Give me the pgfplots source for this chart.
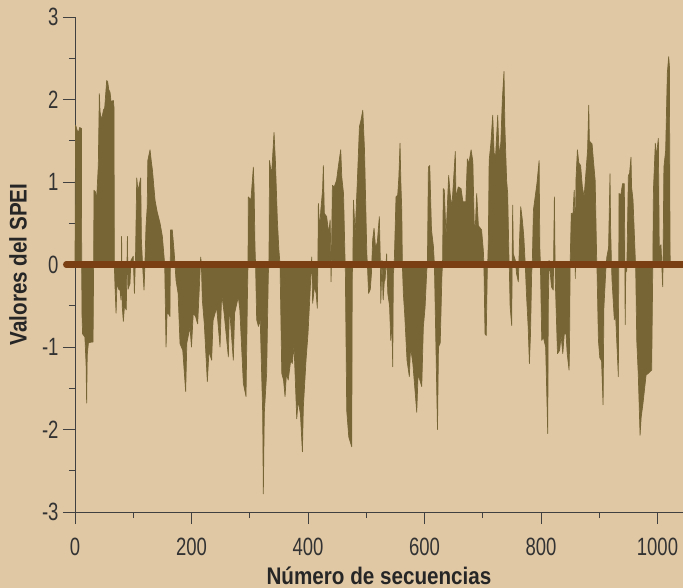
\documentclass[border=0pt]{standalone}
\usepackage{pgfplots}
\pgfplotsset{compat=1.18}
\usepackage{fontspec}
\setmainfont{Liberation Sans}[FakeStretch=0.74]
\newfontfamily\lblfont{Liberation Sans}[FakeStretch=0.86]

\definecolor{bgc}{RGB}{224,200,165}
\definecolor{fillc}{RGB}{119,101,54}
\definecolor{zeroc}{RGB}{123,63,20}
\definecolor{axisc}{RGB}{64,64,64}

\begin{document}
\begin{tikzpicture}
% background of the whole picture
\fill[bgc] (-75bp,-76bp) rectangle (608bp,512bp);
\begin{axis}[
    at={(0,0)}, anchor=south west,
    scale only axis,
    width=608bp, height=495bp,
    xmin=0, xmax=1043.8,
    ymin=-3, ymax=3,
    clip=false,
    axis x line*=bottom, axis y line*=left,
    axis line style={-, draw=axisc, line width=0.9pt},
    xtick={0,200,...,1000}, minor xtick={100,300,...,900},
    ytick={-3,-2,...,3}, minor ytick={-2.5,-1.5,...,2.5},
    tick align=outside,
    major tick length=12bp, minor tick length=6bp,
    every tick/.style={axisc, line width=0.9pt},
    /pgf/number format/assume math mode=true,
    /pgf/number format/set thousands separator={},
    tick label style={font=\fontsize{25bp}{28bp}\selectfont, text=black!80},
    xticklabel style={yshift=-11bp},
    yticklabel style={xshift=-1bp},
    xlabel={Número de secuencias},
    ylabel={Valores del SPEI},
    label style={font=\lblfont\fontsize{24bp}{26bp}\selectfont\bfseries, text=black!85},
    xlabel style={at={(axis description cs:0.5,-0.1455)}, anchor=base, inner sep=0pt},
    ylabel style={at={(axis description cs:-0.0938,0.5)}, anchor=center},
]
% SPEI series
\addplot[fill=fillc, draw=fillc, line width=0.7pt, line join=round] coordinates {
(0,0) (1,1.69) (4,1.62) (6,1.60) (8,1.66) (11,1.65) (11.5,0)
(12,-0.6) (13,-0.84) (17,-0.88) (19,-1.2) (20,-1.68) (21,-1.1) (23,-0.95) (28,-0.94) (31,-0.94) (32,0)
(32.6,0.9) (35,0.88) (37.2,0.8) (40,1.2) (41.8,2.07) (43,1.85) (45.8,1.75) (48.7,1.87) (51,1.9) (54.4,2.23) (56,2.22) (58,2.12) (60.1,2.09) (62,1.97) (65.8,1.99) (67,1.9) (67.5,0)
(68.7,-0.27) (70.5,-0.59) (72,-0.23) (75,-0.3) (77.3,-0.31) (79,-0.43) (80,0.34) (81,-0.5) (83,-0.69) (85,-0.5) (88,-0.55) (90,0.34) (91,-0.3) (94.4,-0.23) (96,0.05) (100,0.1) (102,-0.35) (104,0.13) (106,1.05) (108,0.9) (110,0.95) (112.8,1.05) (114,0.3) (116,0) (118.5,-0.31) (120,0)
(121.9,0.46) (124,0.7) (125,1.26) (128.8,1.39) (131,1.25) (133,1.14) (137.4,0.78) (141,0.64) (146,0.5) (150,0.34) (153.4,0.05) (154,0)
(156.3,-1.0) (158,-0.6) (160,-0.59) (163,-0.63) (164,0.42) (167,0.42) (170,0.17) (171.7,0)
(173.4,-0.19) (177,-0.35) (180.3,-0.96) (185,-1.04) (190,-1.54) (192,-0.95) (197.4,-0.76) (200,-1.0) (203,-0.59) (207,-0.63) (210.6,-0.72) (213,-0.35) (215.8,0.09) (217,0)
(218.6,-0.43) (222,-0.72) (227.2,-1.42) (230,-1.05) (234.6,-1.16) (237,-0.68) (243.2,-0.52) (249,-1.0) (251.8,-0.35) (256,-0.59) (263.3,-1.12) (265,-0.5) (271.8,-1.16) (274,-0.59) (280.4,-0.39) (283,-0.55) (289,-1.44) (293.6,-1.6) (296,-0.4) (297,0)
(297.6,0.82) (302,0.78) (306.2,1.18) (307.5,0.9) (309,0.21) (310,0)
(311.9,-0.67) (315,-0.75) (318,-0.67) (322.2,-1.8) (323.3,-2.78) (325,-1.8) (329,-1.32) (331.9,-0.11) (333,0)
(334,1.26) (336,1.15) (338,1.15) (341.7,1.6) (344,1.26) (347.4,0.54) (350,0.18) (352,0)
(355,-1.32) (358,-1.4) (360.6,-1.6) (363,-1.32) (366,-1.4) (370.4,-1.16) (373,-1.2) (376,-0.98) (380.7,-1.87) (383,-1.65) (387,-1.81) (390.4,-2.27) (392,-1.73) (396.6,-1.16) (400,-0.84) (403.5,-0.35) (405,-0.11) (406.4,0.09) (408,-0.47) (411,-0.27) (414,-0.35) (416,-0.53) (417,0)
(417.8,0.74) (420,0.42) (422,0.66) (425,0.9) (426.4,1.2) (428,0.62) (432,0.58) (435.6,0.38) (438,0.54) (439,0.2) (439.6,-0.21) (440.5,0.2) (441.9,0.96) (445,0.94) (449,1.02) (452.3,1.2) (456.2,1.39) (458,1.06) (461,0.86) (463.6,0.05) (464,0)
(466.5,-1.77) (470,-2.09) (475.1,-2.21) (476,-0.11) (477,0)
(478,0.78) (481,0.38) (485,1.06) (488.3,1.67) (491,1.75) (494.1,1.87) (497,1.39) (501,0.13) (502,0)
(504,-0.35) (507,-0.3) (509,-0.1) (511,0.3) (513.4,0.44) (516,0.2) (519,0.27) (522.5,0.58) (524,0.1) (525,-0.47) (527,0.05) (529,-0.43) (531,-0.2) (532.3,-0.19) (535,0.13) (537,-0.35) (540,-0.5) (542.1,-0.92) (544,-0.7) (545.5,-1.24) (546.5,-0.11) (548,0)
(551.1,0.82) (554,0.84) (556,1.06) (558,1.47) (559.5,0.98) (561,0.66) (562,0)
(563.7,-0.35) (566,-0.6) (570,-1.16) (574,-1.36) (576,-1.0) (580,-1.2) (584,-1.55) (586.7,-1.79) (589,-1.33) (592,-1.4) (595.3,-1.48) (598,-0.76) (601,-0.52) (603.9,-0.07) (605,0)
(606.7,1.18) (609,1.2) (612,0.42) (615.3,0.22) (617,0)
(619,-0.75) (622.3,-2.0) (624,-1.0) (627,-0.95) (630,-0.11) (631,0)
(632.3,0.92) (634,0.9) (637,0.34) (641.5,1.08) (644,0.86) (647,0.69) (652.9,1.37) (654,0.82) (658,0.94) (662.7,0.92) (666,0.76) (671,0.76) (673.6,1.28) (676,1.22) (680,1.39) (683,1.25) (685.7,0.38) (687.5,0.5) (689.6,0.86) (692.5,0.47) (698,0.42) (701,0.17) (702,0)
(703.9,-0.84) (706,-0.86) (707.9,-0.03) (708.5,0)
(709.6,0.28) (711,1.26) (714,1.47) (717.1,1.81) (719.5,1.35) (722,1.31) (725.7,1.81) (728,1.33) (731,1.47) (733.6,1.99) (736.5,2.34) (738,1.67) (741,1.02) (742.8,0.86) (745.1,0.05) (745.5,0)
(747,-0.51) (749.7,-0.74) (750.5,0) (751.4,0.72) (752.5,0.13) (756,0.05) (758,-0.11) (761.1,-0.21) (762,0) (763,0.26) (765.2,0.7) (768,0.54) (770.5,0.34) (772.6,0.05) (773,0)
(775,-0.35) (778,-0.76) (780.1,-1.2) (782,-0.84) (784,-0.1) (785,0)
(787,0.66) (790,0.82) (793,0.98) (796.8,1.26) (798,0.21) (799,0)
(801.3,-0.92) (804,-0.88) (808,-1.0) (811.6,-2.05) (812.5,-0.5) (813.9,0.05) (816,-0.11) (818,-0.27) (821,-0.31) (823,0.82) (824.5,-0.19) (828.3,-1.08) (832,-1.04) (834.5,-0.86) (837.4,-1.08) (840,-0.84) (843,-0.84) (845,-1.08) (848.2,-1.28) (849,-1.0) (850,0)
(852,0.62) (855,0.62) (857,0.9) (858.5,0.5) (859,-0.17) (860,1.02) (862.5,1.39) (865,1.23) (868,1.2) (871,0.94) (874,0.82) (877,1.1) (880,1.39) (882,1.93) (883,1.5) (885,1.48) (887.7,1.46) (890,1.26) (893,1.02) (895.7,0.03) (896,0)
(898.6,-0.92) (901,-1.13) (904,-1.17) (906.6,-1.7) (908,-0.52) (911.2,-0.08) (912,0)
(913,0.09) (916,0.2) (918.5,1.1) (919.5,0.46) (921,0)
(922,-0.2) (925.9,-0.67) (928,-0.6) (932.8,-1.36) (933.5,0)
(934,0.86) (937,0.84) (940,0.98) (943,0.98) (944,0.1) (944.5,-0.73) (945.5,-0.1) (947.3,-0.07) (950,1.08) (952,1.1) (954.5,1.3) (955.5,0.94) (958,0.78) (962,0.05) (962.5,0)
(964.4,-0.92) (967,-1.33) (970.1,-2.07) (972,-1.85) (975,-1.69) (980.4,-1.34) (984,-1.32) (990,-1.28) (991.9,-0.03) (992,0)
(993,0.9) (996.3,1.47) (998,1.31) (1001.5,1.53) (1003,0.2) (1006,0.24) (1008.9,-0.27) (1009.5,0) (1011,1.18) (1014,1.38) (1016.9,2.32) (1019.2,2.52) (1020.5,2.4) (1021.5,0.2) (1022,0)
} --cycle;
% zero reference line
\addplot[zeroc, line width=6.5bp, line cap=round] coordinates {(-15,0) (1060,0)};
\end{axis}
\pgfresetboundingbox
\path[use as bounding box] (-75bp,-76bp) rectangle (608bp,512bp);
\end{tikzpicture}
\end{document}
